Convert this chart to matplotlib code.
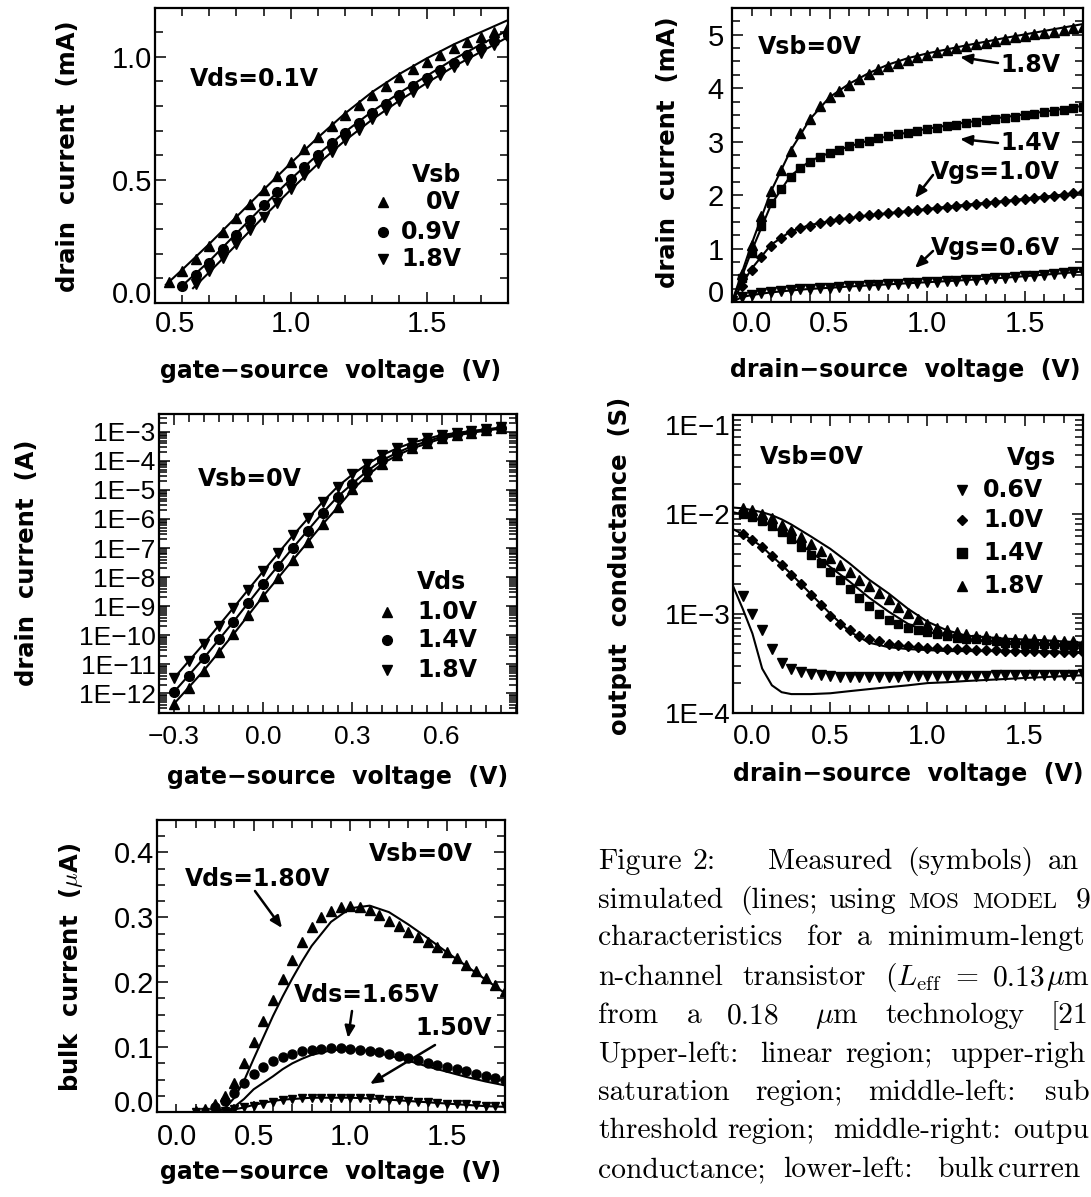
import numpy as np
import matplotlib
matplotlib.use("Agg")
import matplotlib.pyplot as plt
from matplotlib.ticker import MultipleLocator, LogLocator, NullFormatter
from matplotlib.patches import FancyArrowPatch
from matplotlib.lines import Line2D

# ======================= DATA =======================
# --- upper-left: linear region (Vds = 0.1 V), drain current in mA ---
vgs_lin = [0.55, 0.60, 0.65, 0.70, 0.75, 0.80, 0.85, 0.90, 0.95, 1.00, 1.05, 1.10, 1.15,
           1.20, 1.25, 1.30, 1.35, 1.40, 1.45, 1.50, 1.55, 1.60, 1.65, 1.70, 1.75, 1.80]
id_lin_vsb0 = [0.084, 0.128, 0.178, 0.232, 0.290, 0.347, 0.403, 0.457, 0.514, 0.572, 0.624, 0.675, 0.720,
               0.764, 0.805, 0.845, 0.881, 0.916, 0.949, 0.978, 1.007, 1.034, 1.058, 1.081, 1.102, 1.122]
id_lin_vsb09 = [0.070, 0.115, 0.162, 0.219, 0.277, 0.338, 0.396, 0.449, 0.504, 0.554, 0.601, 0.648,
                0.692, 0.732, 0.772, 0.810, 0.846, 0.880, 0.913, 0.945, 0.976, 1.006, 1.035, 1.063, 1.090]
id_lin_vsb18 = [0.078, 0.128, 0.182, 0.240, 0.295, 0.351, 0.408, 0.462, 0.518, 0.568, 0.615, 0.662,
                0.703, 0.746, 0.784, 0.822, 0.858, 0.893, 0.927, 0.958, 0.988, 1.017, 1.047, 1.078]
vgs_lin_sim0 = [0.54, 0.60, 0.70, 0.80, 0.90, 1.00, 1.10, 1.20, 1.30, 1.40, 1.50, 1.60, 1.70, 1.80]
id_lin_sim0 = [0.074, 0.135, 0.240, 0.350, 0.460, 0.568, 0.672, 0.770, 0.857, 0.930, 0.993, 1.050, 1.100, 1.149]
vgs_lin_sim09 = [0.59, 0.70, 0.80, 0.90, 1.00, 1.10, 1.20, 1.30, 1.40, 1.50, 1.60, 1.70, 1.80]
id_lin_sim09 = [0.060, 0.170, 0.283, 0.395, 0.503, 0.603, 0.695, 0.778, 0.853, 0.922, 0.990, 1.050, 1.108]
vgs_lin_sim18 = [0.64, 0.70, 0.80, 0.90, 1.00, 1.10, 1.20, 1.30, 1.40, 1.50, 1.60, 1.70, 1.80]
id_lin_sim18 = [0.060, 0.125, 0.237, 0.350, 0.460, 0.565, 0.660, 0.745, 0.822, 0.893, 0.960, 1.020, 1.080]

# --- upper-right: saturation region (Vsb = 0 V), drain current in mA ---
vds_sat = [0.00, 0.05, 0.10, 0.15, 0.20, 0.25, 0.30, 0.35, 0.40, 0.45, 0.50, 0.55, 0.60, 0.65,
           0.70, 0.75, 0.80, 0.85, 0.90, 0.95, 1.00, 1.05, 1.10, 1.15, 1.20, 1.25, 1.30, 1.35,
           1.40, 1.45, 1.50, 1.55, 1.60, 1.65, 1.70, 1.75, 1.80]
id_sat_vgs18 = [0.00, 0.52, 1.07, 1.60, 2.07, 2.47, 2.82, 3.16, 3.42, 3.67, 3.83, 3.95, 4.06, 4.17,
                4.27, 4.35, 4.42, 4.48, 4.53, 4.58, 4.63, 4.67, 4.71, 4.75, 4.78, 4.82, 4.85, 4.88,
                4.92, 4.95, 4.98, 5.01, 5.03, 5.06, 5.09, 5.12, 5.14]
id_sat_vgs14 = [0.00, 0.45, 0.92, 1.42, 1.85, 2.12, 2.33, 2.50, 2.62, 2.71, 2.78, 2.85, 2.91, 2.97,
                3.02, 3.06, 3.10, 3.14, 3.17, 3.20, 3.23, 3.26, 3.29, 3.32, 3.35, 3.37, 3.40, 3.42,
                3.45, 3.47, 3.50, 3.52, 3.55, 3.57, 3.60, 3.62, 3.65]
id_sat_vgs10 = [0.00, 0.30, 0.60, 0.85, 1.05, 1.20, 1.31, 1.38, 1.43, 1.48, 1.52, 1.55, 1.58, 1.60,
                1.62, 1.64, 1.66, 1.68, 1.70, 1.72, 1.74, 1.76, 1.78, 1.80, 1.82, 1.84, 1.86, 1.88,
                1.89, 1.91, 1.93, 1.95, 1.97, 1.99, 2.01, 2.03, 2.05]
id_sat_vgs06 = [0.02, 0.10, 0.14, 0.17, 0.19, 0.21, 0.22, 0.235, 0.25, 0.26, 0.27, 0.28, 0.29, 0.30,
                0.31, 0.32, 0.33, 0.34, 0.35, 0.36, 0.37, 0.38, 0.39, 0.40, 0.41, 0.42, 0.435, 0.445,
                0.455, 0.47, 0.48, 0.495, 0.51, 0.525, 0.54, 0.555, 0.57]
vds_sat_sim = [0.00, 0.05, 0.10, 0.20, 0.30, 0.40, 0.50, 0.60, 0.70, 0.80, 0.90, 1.00, 1.20, 1.40, 1.60, 1.80]
id_sat_sim18 = [0.00, 0.54, 1.08, 2.07, 2.83, 3.42, 3.83, 4.08, 4.28, 4.44, 4.56, 4.65, 4.80, 4.94, 5.07, 5.20]
id_sat_sim14 = [0.00, 0.47, 0.95, 1.82, 2.36, 2.64, 2.79, 2.91, 3.02, 3.10, 3.17, 3.24, 3.36, 3.46, 3.56, 3.67]
id_sat_sim10 = [0.00, 0.32, 0.62, 1.07, 1.32, 1.44, 1.51, 1.57, 1.62, 1.66, 1.70, 1.74, 1.82, 1.89, 1.97, 2.05]
id_sat_sim06 = [0.00, 0.09, 0.13, 0.18, 0.215, 0.245, 0.265, 0.29, 0.31, 0.33, 0.35, 0.37, 0.41, 0.455, 0.51, 0.57]

# --- middle-left: subthreshold region (Vsb = 0 V), drain current in A ---
vgs_sub = [-0.30, -0.25, -0.20, -0.15, -0.10, -0.05, 0.00, 0.05, 0.10, 0.15, 0.20, 0.25,
           0.30, 0.35, 0.40, 0.45, 0.50, 0.55, 0.60, 0.65, 0.70, 0.75, 0.80]
id_sub_vds10 = [4.3e-13, 1.48e-12, 6.0e-12, 2.6e-11, 1.07e-10, 4.9e-10, 2.2e-9, 9.5e-9, 3.9e-8,
                1.62e-7, 6.6e-7, 2.5e-6, 1.05e-5, 3.0e-5, 8.1e-5, 1.58e-4, 2.7e-4, 4.2e-4,
                5.9e-4, 7.8e-4, 9.3e-4, 1.15e-3, 1.32e-3]
id_sub_vds14 = [1.1e-12, 4.1e-12, 1.6e-11, 7.2e-11, 2.9e-10, 1.26e-9, 5.8e-9, 2.4e-8, 1.02e-7,
                3.8e-7, 1.62e-6, 5.8e-6, 1.66e-5, 4.5e-5, 1.07e-4, 1.9e-4, 3.2e-4, 4.8e-4,
                6.8e-4, 8.1e-4, 1.0e-3, 1.15e-3, 1.38e-3]
id_sub_vds18 = [3.3e-12, 1.26e-11, 5.0e-11, 2.1e-10, 8.7e-10, 3.6e-9, 1.58e-8, 6.6e-8, 2.7e-7,
                1.05e-6, 3.9e-6, 1.29e-5, 3.4e-5, 7.8e-5, 1.58e-4, 2.7e-4, 4.2e-4, 5.9e-4,
                7.8e-4, 9.1e-4, 1.07e-3, 1.23e-3, 1.41e-3]
vgs_sub_sim = [-0.30, -0.20, -0.10, 0.00, 0.10, 0.20, 0.25, 0.30, 0.35, 0.40, 0.45, 0.50, 0.60, 0.70, 0.80]
id_sub_sim10 = [4.3e-13, 6.0e-12, 1.07e-10, 2.2e-9, 3.9e-8, 6.6e-7, 2.5e-6, 1.0e-5, 3.1e-5, 8.0e-5,
                1.55e-4, 2.65e-4, 5.9e-4, 9.3e-4, 1.3e-3]
id_sub_sim14 = [1.1e-12, 1.6e-11, 2.9e-10, 5.8e-9, 1.02e-7, 1.62e-6, 5.8e-6, 1.66e-5, 4.5e-5, 1.05e-4,
                1.9e-4, 3.2e-4, 6.8e-4, 1.0e-3, 1.36e-3]
id_sub_sim18 = [3.3e-12, 5.0e-11, 8.7e-10, 1.58e-8, 2.7e-7, 3.9e-6, 1.29e-5, 3.4e-5, 7.8e-5, 1.58e-4,
                2.7e-4, 4.2e-4, 7.8e-4, 1.07e-3, 1.4e-3]

# --- middle-right: output conductance (Vsb = 0 V), in S ---
vds_gds = [0.05, 0.10, 0.15, 0.20, 0.25, 0.30, 0.35, 0.40, 0.45, 0.50, 0.55, 0.60, 0.65, 0.70,
           0.75, 0.80, 0.85, 0.90, 0.95, 1.00, 1.05, 1.10, 1.15, 1.20, 1.25, 1.30, 1.35, 1.40,
           1.45, 1.50, 1.55, 1.60, 1.65, 1.70, 1.75, 1.80]
gds_vgs18 = [1.15e-2, 1.1e-2, 1.0e-2, 9.1e-3, 7.9e-3, 6.9e-3, 5.9e-3, 5.0e-3, 4.3e-3, 3.6e-3,
             3.1e-3, 2.6e-3, 2.2e-3, 1.9e-3, 1.6e-3, 1.4e-3, 1.17e-3, 1.02e-3, 8.9e-4, 7.9e-4,
             7.2e-4, 6.8e-4, 6.5e-4, 6.2e-4, 6.0e-4, 5.9e-4, 5.75e-4, 5.6e-4, 5.6e-4, 5.5e-4,
             5.5e-4, 5.4e-4, 5.4e-4, 5.25e-4, 5.25e-4, 5.1e-4]
gds_vgs14 = [1.0e-2, 9.3e-3, 8.5e-3, 7.6e-3, 6.6e-3, 5.6e-3, 4.7e-3, 3.9e-3, 3.2e-3, 2.6e-3,
             2.2e-3, 1.78e-3, 1.45e-3, 1.2e-3, 1.0e-3, 8.7e-4, 7.8e-4, 7.2e-4, 6.9e-4, 6.6e-4,
             6.3e-4, 6.0e-4, 5.75e-4, 5.6e-4, 5.5e-4, 5.4e-4, 5.25e-4, 5.1e-4, 5.1e-4, 5.0e-4,
             5.0e-4, 4.9e-4, 4.9e-4, 4.8e-4, 4.8e-4, 4.7e-4]
gds_vgs10 = [6.3e-3, 5.5e-3, 4.7e-3, 3.8e-3, 3.1e-3, 2.45e-3, 2.0e-3, 1.55e-3, 1.23e-3, 9.5e-4,
             7.9e-4, 6.8e-4, 6.0e-4, 5.6e-4, 5.25e-4, 5.0e-4, 4.8e-4, 4.7e-4, 4.6e-4, 4.5e-4,
             4.5e-4, 4.4e-4, 4.4e-4, 4.4e-4, 4.3e-4, 4.3e-4, 4.3e-4, 4.2e-4, 4.2e-4, 4.2e-4,
             4.2e-4, 4.15e-4, 4.15e-4, 4.1e-4, 4.1e-4, 4.1e-4]
gds_vgs06 = [1.5e-3, 1.0e-3, 6.8e-4, 4.4e-4, 3.2e-4, 2.8e-4, 2.6e-4, 2.45e-4, 2.4e-4, 2.35e-4,
             2.33e-4, 2.32e-4, 2.32e-4, 2.32e-4, 2.32e-4, 2.33e-4, 2.33e-4, 2.34e-4, 2.34e-4, 2.35e-4,
             2.35e-4, 2.36e-4, 2.36e-4, 2.37e-4, 2.38e-4, 2.38e-4, 2.39e-4, 2.4e-4, 2.4e-4, 2.41e-4,
             2.42e-4, 2.42e-4, 2.43e-4, 2.44e-4, 2.44e-4, 2.45e-4]
vds_gds_sim = [0.00, 0.05, 0.10, 0.15, 0.20, 0.25, 0.30, 0.40, 0.50, 0.60, 0.70, 0.80, 0.90, 1.00,
               1.10, 1.20, 1.40, 1.60, 1.80]
gds_sim18 = [1.17e-2, 1.15e-2, 1.1e-2, 1.05e-2, 9.8e-3, 8.9e-3, 7.9e-3, 6.0e-3, 4.5e-3, 3.2e-3,
             2.2e-3, 1.6e-3, 1.12e-3, 8.3e-4, 6.8e-4, 6.0e-4, 5.6e-4, 5.4e-4, 5.1e-4]
gds_sim14 = [1.05e-2, 1.0e-2, 9.3e-3, 8.5e-3, 7.6e-3, 6.6e-3, 5.75e-3, 4.2e-3, 2.95e-3, 2.1e-3,
             1.45e-3, 1.05e-3, 7.9e-4, 6.6e-4, 5.9e-4, 5.5e-4, 5.25e-4, 5.0e-4, 4.8e-4]
gds_sim10 = [7.1e-3, 6.3e-3, 5.5e-3, 4.7e-3, 3.8e-3, 3.1e-3, 2.5e-3, 1.58e-3, 1.0e-3, 6.6e-4,
             5.1e-4, 4.6e-4, 4.4e-4, 4.3e-4, 4.2e-4, 4.2e-4, 4.2e-4, 4.2e-4, 4.1e-4]
gds_sim06 = [1.9e-3, 1.12e-3, 6.3e-4, 2.8e-4, 1.9e-4, 1.62e-4, 1.55e-4, 1.55e-4, 1.58e-4, 1.66e-4,
             1.74e-4, 1.82e-4, 1.9e-4, 2.0e-4, 2.04e-4, 2.1e-4, 2.2e-4, 2.3e-4, 2.4e-4]

# --- lower-left: bulk current (Vsb = 0 V), in uA ---
vgs_bulk = [0.20, 0.25, 0.30, 0.35, 0.40, 0.45, 0.50, 0.55, 0.60, 0.65, 0.70, 0.75, 0.80, 0.85,
            0.90, 0.95, 1.00, 1.05, 1.10, 1.15, 1.20, 1.25, 1.30, 1.35, 1.40, 1.45, 1.50, 1.55,
            1.60, 1.65, 1.70, 1.75, 1.80]
ib_vds180 = [0.002, 0.005, 0.012, 0.024, 0.045, 0.075, 0.108, 0.140, 0.173, 0.205, 0.235, 0.262,
             0.285, 0.300, 0.310, 0.316, 0.318, 0.316, 0.311, 0.304, 0.295, 0.286, 0.278, 0.270,
             0.262, 0.254, 0.246, 0.237, 0.227, 0.217, 0.206, 0.196, 0.186]
ib_vds165 = [0.008, 0.017, 0.030, 0.045, 0.058, 0.069, 0.078, 0.085, 0.090, 0.094, 0.096, 0.097,
             0.098, 0.098, 0.097, 0.096, 0.094, 0.092, 0.089, 0.086, 0.083, 0.080, 0.076, 0.073,
             0.070, 0.066, 0.063, 0.059, 0.056, 0.052, 0.049]           # from 0.30 V
ib_vds150 = [0.000, 0.000, 0.001, 0.002, 0.004, 0.007, 0.010, 0.013, 0.016, 0.018, 0.020, 0.021,
             0.022, 0.022, 0.022, 0.022, 0.022, 0.021, 0.021, 0.020, 0.019, 0.018, 0.017, 0.016,
             0.015, 0.014, 0.013, 0.012, 0.012, 0.011, 0.010, 0.010, 0.009]
vgs_bulk_sim = [0.20, 0.30, 0.35, 0.40, 0.45, 0.50, 0.55, 0.60, 0.65, 0.70, 0.75, 0.80, 0.90, 1.00,
                1.10, 1.20, 1.30, 1.40, 1.50, 1.60, 1.70, 1.80]
ib_sim180 = [0.000, 0.000, 0.005, 0.022, 0.048, 0.082, 0.115, 0.148, 0.178, 0.206, 0.232, 0.256,
             0.293, 0.314, 0.318, 0.308, 0.289, 0.268, 0.246, 0.225, 0.204, 0.183]
ib_sim165 = [0.000, 0.000, 0.000, 0.008, 0.020, 0.035, 0.045, 0.055, 0.066, 0.075, 0.082, 0.088,
             0.095, 0.097, 0.094, 0.087, 0.079, 0.070, 0.062, 0.054, 0.047, 0.041]
ib_sim150 = [0.000, 0.000, 0.001, 0.004, 0.007, 0.011, 0.014, 0.017, 0.019, 0.020, 0.021, 0.022,
             0.022, 0.022, 0.021, 0.019, 0.017, 0.015, 0.013, 0.011, 0.009, 0.008]

# ======================= FIGURE =======================
W, H = 1091, 1197
plt.rcParams['font.family'] = ['Liberation Sans', 'DejaVu Sans']
plt.rcParams['mathtext.fontset'] = 'cm'
fig = plt.figure(figsize=(W / 100, H / 100), dpi=100)
fig.patch.set_facecolor('white')

LW = 1.5
XLAB = 17      # horizontal axis titles
YLAB = 17.5    # vertical axis titles
ANN = 17       # annotations


def add_ax(l, t, r, b):
    return fig.add_axes([l / W, 1 - b / H, (r - l) / W, (b - t) / H])


def base_style(ax, xsize, ysize, xpad, ypad):
    for sp in ax.spines.values():
        sp.set_linewidth(1.6)
    ax.tick_params(which='both', direction='in', top=True, right=True, width=1.1, colors='k')
    ax.tick_params(which='major', length=8)
    ax.tick_params(which='minor', length=5.5)
    ax.tick_params(axis='x', labelsize=xsize, pad=xpad)
    ax.tick_params(axis='y', labelsize=ysize, pad=ypad)


def btext(x, y, s, size=ANN, ha='center', va='center', rot=0):
    fig.text(x / W, 1 - y / H, s, fontsize=size, ha=ha, va=va, rotation=rot,
             fontfamily='DejaVu Sans', fontweight='bold')


def farrow(x0, y0, x1, y1):
    fig.add_artist(FancyArrowPatch((x0 / W, 1 - y0 / H), (x1 / W, 1 - y1 / H),
                                   transform=fig.transFigure,
                                   arrowstyle='-|>,head_length=7,head_width=3',
                                   mutation_scale=1, color='k', lw=1.8,
                                   shrinkA=0, shrinkB=0))


def fmarker(x, y, m, ms):
    fig.add_artist(Line2D([x / W], [1 - y / H], transform=fig.transFigure,
                          marker=m, ms=ms, color='k', ls='none'))


# ---------- Panel 1 : linear region ----------
ax1 = add_ax(155, 7.5, 508, 303)
ax1.plot(vgs_lin_sim0, id_lin_sim0, 'k-', lw=LW)
ax1.plot(vgs_lin_sim09, id_lin_sim09, 'k-', lw=LW)
ax1.plot(vgs_lin_sim18, id_lin_sim18, 'k-', lw=LW)
ax1.plot(vgs_lin, id_lin_vsb0, 'k^', ms=7.5, ls='none')
ax1.plot(vgs_lin[1:], id_lin_vsb09, 'ko', ms=7, ls='none')
ax1.plot(vgs_lin[2:], id_lin_vsb18, 'kv', ms=7.5, ls='none')
ax1.set_xlim(0.5, 1.8)
ax1.set_ylim(0, 1.2)
ax1.set_xticks([0.5, 1.0, 1.5], ['0.5', '1.0', '1.5'])
ax1.set_yticks([0.0, 0.5, 1.0], ['0.0', '0.5', '1.0'])
ax1.xaxis.set_minor_locator(MultipleLocator(0.1))
ax1.yaxis.set_minor_locator(MultipleLocator(0.1))
base_style(ax1, 21, 21, 5, 2)

btext(68, 156, 'drain  current  (mA)', YLAB, rot=90)
btext(331, 371, 'gate\u2212source  voltage  (V)', XLAB)
btext(254, 79, 'Vds=0.1V')
btext(461, 175, 'Vsb', ha='right')
fmarker(383, 202, '^', 7.5)
fmarker(383, 232, 'o', 7)
fmarker(383, 259, 'v', 7.5)
btext(461, 202, '0V', ha='right')
btext(461, 232, '0.9V', ha='right')
btext(461, 259, '1.8V', ha='right')

# ---------- Panel 2 : saturation ----------
ax2 = add_ax(732, 8, 1083, 302)
for sim in (id_sat_sim18, id_sat_sim14, id_sat_sim10, id_sat_sim06):
    ax2.plot(vds_sat_sim, sim, 'k-', lw=LW)
ax2.plot(vds_sat, id_sat_vgs18, 'k^', ms=6.5, ls='none')
ax2.plot(vds_sat, id_sat_vgs14, 'ks', ms=6, ls='none')
ax2.plot(vds_sat, id_sat_vgs10, 'kD', ms=4.8, ls='none')
ax2.plot(vds_sat, id_sat_vgs06, 'kv', ms=6.5, ls='none')
ax2.set_xlim(0, 1.8)
ax2.set_ylim(0, 5.5)
ax2.set_xticks([0.0, 0.5, 1.0, 1.5], ['0.0', '0.5', '1.0', '1.5'])
ax2.set_yticks([0, 1, 2, 3, 4, 5], ['0', '1', '2', '3', '4', '5'])
ax2.xaxis.set_minor_locator(MultipleLocator(0.1))
ax2.yaxis.set_minor_locator(MultipleLocator(0.25))
base_style(ax2, 21, 21, 6, 6)

btext(668, 152, 'drain  current  (mA)', YLAB, rot=90)
btext(905, 370, 'drain\u2212source  voltage  (V)', XLAB)
btext(810, 47, 'Vsb=0V')
btext(1060, 65, '1.8V', ha='right')
farrow(998, 63, 960, 57)
btext(1060, 143, '1.4V', ha='right')
farrow(998, 143, 960, 139)
btext(1060, 172, 'Vgs=1.0V', ha='right')
farrow(933, 175, 915, 198)
btext(1060, 248, 'Vgs=0.6V', ha='right')
farrow(933, 251, 915, 268)

# ---------- Panel 3 : subthreshold ----------
ax3 = add_ax(159, 414, 517, 713)
for sim in (id_sub_sim10, id_sub_sim14, id_sub_sim18):
    ax3.plot(vgs_sub_sim, sim, 'k-', lw=LW)
ax3.plot(vgs_sub, id_sub_vds10, 'k^', ms=7, ls='none')
ax3.plot(vgs_sub, id_sub_vds14, 'ko', ms=7, ls='none')
ax3.plot(vgs_sub, id_sub_vds18, 'kv', ms=7, ls='none')
ax3.set_yscale('log')
ax3.set_xlim(-0.35, 0.853)
ax3.set_ylim(2.1e-13, 4.1e-3)
ax3.set_xticks([-0.3, 0.0, 0.3, 0.6], ['\u22120.3', '0.0', '0.3', '0.6'])
ax3.xaxis.set_minor_locator(MultipleLocator(0.05))
dec3 = [1e-12, 1e-11, 1e-10, 1e-9, 1e-8, 1e-7, 1e-6, 1e-5, 1e-4, 1e-3]
ax3.set_yticks(dec3, ['1E\u221212', '1E\u221211', '1E\u221210', '1E\u22129', '1E\u22128',
                      '1E\u22127', '1E\u22126', '1E\u22125', '1E\u22124', '1E\u22123'])
ax3.yaxis.set_minor_locator(LogLocator(base=10, subs=np.arange(2, 10), numticks=200))
ax3.yaxis.set_minor_formatter(NullFormatter())
base_style(ax3, 19, 19, 9, 2.5)

btext(27, 563, 'drain  current  (A)', YLAB, rot=90)
btext(338, 777, 'gate\u2212source  voltage  (V)', XLAB)
btext(250, 479, 'Vsb=0V')
btext(417, 582, 'Vds', ha='left')
fmarker(387, 612, '^', 7)
fmarker(387, 640, 'o', 7)
fmarker(387, 670, 'v', 7)
btext(417, 612, '1.0V', ha='left')
btext(417, 640, '1.4V', ha='left')
btext(417, 670, '1.8V', ha='left')

# ---------- Panel 4 : output conductance ----------
ax4 = add_ax(733, 415, 1083, 713)
for sim in (gds_sim18, gds_sim14, gds_sim10, gds_sim06):
    ax4.plot(vds_gds_sim, sim, 'k-', lw=LW)
ax4.plot(vds_gds, gds_vgs18, 'k^', ms=6.5, ls='none')
ax4.plot(vds_gds, gds_vgs14, 'ks', ms=6, ls='none')
ax4.plot(vds_gds, gds_vgs10, 'kD', ms=5.2, ls='none')
ax4.plot(vds_gds, gds_vgs06, 'kv', ms=6.5, ls='none')
ax4.set_yscale('log')
ax4.set_xlim(0, 1.8)
ax4.set_ylim(1e-4, 1e-1)
ax4.set_xticks([0.0, 0.5, 1.0, 1.5], ['0.0', '0.5', '1.0', '1.5'])
ax4.xaxis.set_minor_locator(MultipleLocator(0.1))
ax4.set_yticks([1e-4, 1e-3, 1e-2, 1e-1], ['1E\u22124', '1E\u22123', '1E\u22122', '1E\u22121'])
ax4.yaxis.set_minor_locator(LogLocator(base=10, subs=np.arange(2, 10), numticks=200))
ax4.yaxis.set_minor_formatter(NullFormatter())
base_style(ax4, 20, 20, 8, 2)

btext(620, 566, 'output  conductance  (S)', YLAB, rot=90)
btext(908, 774, 'drain\u2212source  voltage  (V)', XLAB)
btext(812, 457, 'Vsb=0V')
btext(1007, 458, 'Vgs', ha='left')
fmarker(962, 490, 'v', 6.5)
fmarker(962, 520, 'D', 5.2)
fmarker(962, 553, 's', 7)
fmarker(962, 586, '^', 6.5)
btext(983, 490, '0.6V', ha='left')
btext(983, 520, '1.0V', ha='left')
btext(983, 553, '1.4V', ha='left')
btext(983, 586, '1.8V', ha='left')

# ---------- Panel 5 : bulk current ----------
ax5 = add_ax(157, 820, 505, 1112)
for sim in (ib_sim180, ib_sim165, ib_sim150):
    ax5.plot(vgs_bulk_sim, sim, 'k-', lw=LW)
ax5.plot(vgs_bulk, ib_vds180, 'k^', ms=6.5, ls='none')
ax5.plot(vgs_bulk[2:], ib_vds165, 'ko', ms=6.5, ls='none')
ax5.plot(vgs_bulk, ib_vds150, 'kv', ms=6, ls='none')
ax5.set_xlim(0, 1.8)
ax5.set_ylim(0, 0.45)
ax5.set_xticks([0.0, 0.5, 1.0, 1.5], ['0.0', '0.5', '1.0', '1.5'])
ax5.set_yticks([0.0, 0.1, 0.2, 0.3, 0.4], ['0.0', '0.1', '0.2', '0.3', '0.4'])
ax5.xaxis.set_minor_locator(MultipleLocator(0.1))
ax5.yaxis.set_minor_locator(MultipleLocator(0.025))
base_style(ax5, 21, 21, 8, 2)

btext(71, 967, r'bulk  current  ($\mu$A)', YLAB, rot=90)
btext(331, 1172, 'gate\u2212source  voltage  (V)', XLAB)
btext(421, 854, 'Vsb=0V')
btext(258, 879, 'Vds=1.80V')
farrow(255, 891, 282, 928)
btext(367, 995, 'Vds=1.65V')
farrow(352, 1011, 348, 1038)
btext(454, 1028, '1.50V')
farrow(435, 1045, 370, 1084)

# ---------- PAW-style edge tick labels ----------
for ax in (ax1, ax2, ax4, ax5):
    ax.xaxis.get_major_ticks()[0].label1.set_horizontalalignment('left')
for ax in (ax1, ax2, ax5):
    ax.yaxis.get_major_ticks()[0].label1.set_verticalalignment('baseline')
ax4.yaxis.get_major_ticks()[-1].label1.set_verticalalignment('top')

# ---------- caption (justified column, cut by the right edge of the page) ----------
CAP = 21.3
SC = 16.3


def cap(x, base, s, size=CAP):
    fig.text(x / W, 1 - base / H, s, fontsize=size, fontfamily='cmr10', ha='left', va='baseline')


caption_lines = [
    (869, [(598, 'Figure'), (692, '2:'), (768, 'Measured'), (907, '(symbols)'), (1048, 'an')]),
    (908, [(598, 'simulated'), (740, '(lines;'), (828, 'using')]),
    (945, [(598, 'characteristics'), (807, 'for'), (857, 'a'), (887, 'minimum-lengt')]),
    (985, [(598, 'n-channel'), (742, 'transistor'), (885, r'$(L_{\rm eff}$'), (955, '='),
           (993, '0.13'), (1046, r'$\mu$m')]),
    (1023, [(598, 'from'), (687, 'a'), (727, '0.18'), (815, r'$\mu$m'), (885, 'technology'),
            (1051, '[21')]),
    (1062, [(598, 'Upper-left:'), (760, 'linear'), (845, 'region;'), (950, 'upper-righ')]),
    (1100, [(598, 'saturation'), (755, 'region;'), (868, 'middle-left:'), (1045, 'sub')]),
    (1138, [(598, 'threshold'), (727, 'region;'), (833, 'middle-right:'), (1013, 'outpu')]),
    (1177, [(598, 'conductance;'), (783, 'lower-left:'), (937, 'bulk'), (998, 'curren')]),
]
for base, words in caption_lines:
    for x, w in words:
        cap(x, base, w)
# small caps "MOS MODEL 9"
cap(908, 908, 'MOS', SC)
cap(972, 908, 'MODEL', SC)
cap(1076, 908, '9')

fig.savefig('out.png', dpi=100, facecolor='white')
